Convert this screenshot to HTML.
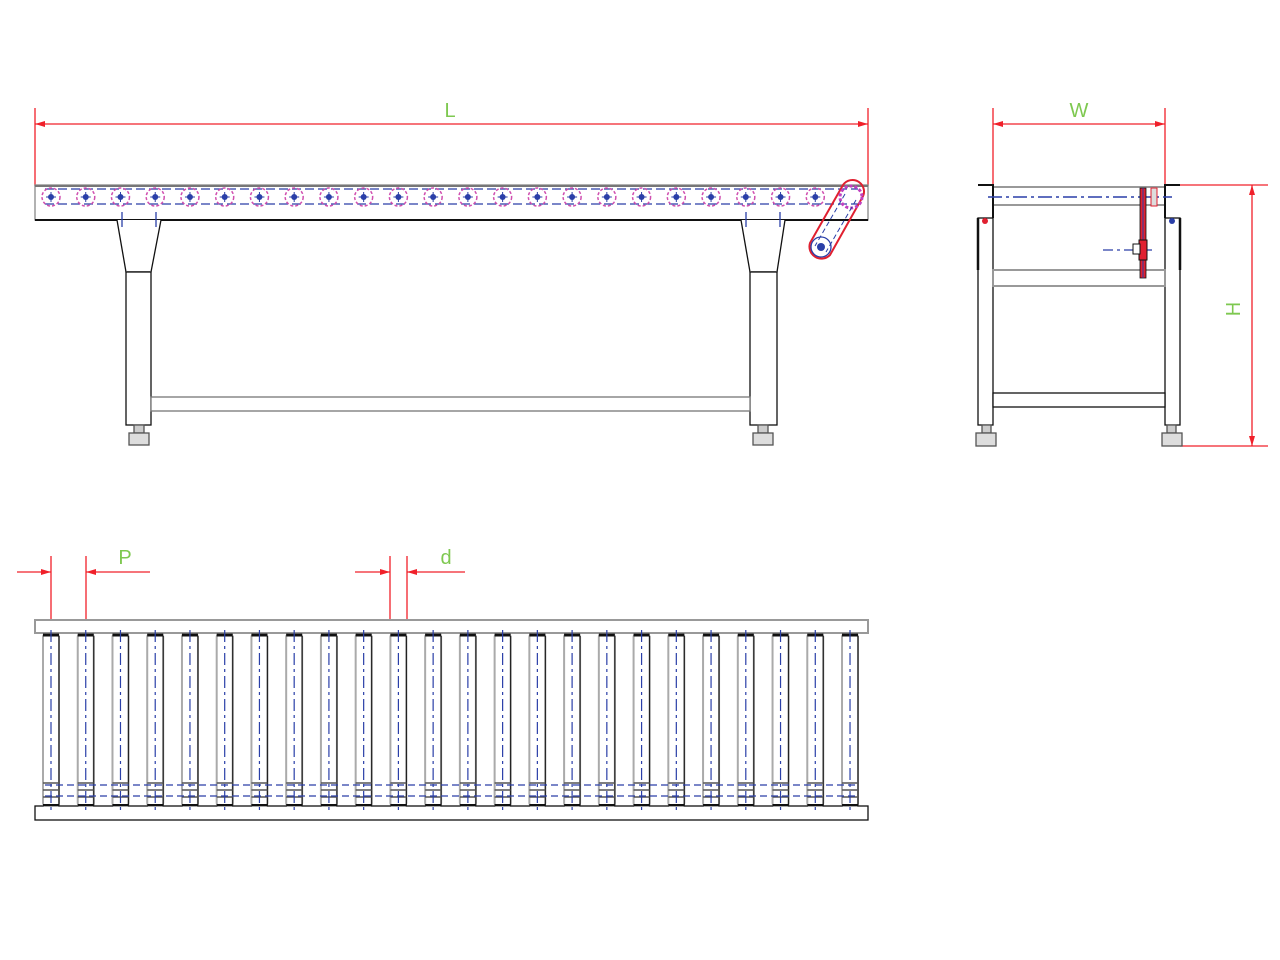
<!DOCTYPE html>
<html><head><meta charset="utf-8"><style>
html,body{margin:0;padding:0;background:#fff;}
svg{display:block;}
text{font-family:"Liberation Sans",sans-serif;fill:#7ec850;}
</style></head><body>
<svg id="s" width="1280" height="960" viewBox="0 0 1280 960" xmlns="http://www.w3.org/2000/svg">
<defs>
<marker id="ar" viewBox="0 0 10 6" refX="10" refY="3" markerWidth="16" markerHeight="6" markerUnits="userSpaceOnUse" orient="auto-start-reverse"><path d="M0,0 L10,3 L0,6 z" fill="#f0202a"/></marker>
</defs>
<g stroke="#f0202a" stroke-width="1.3" fill="none">
<!-- L -->
<line x1="35" y1="108" x2="35" y2="186"/><line x1="868" y1="108" x2="868" y2="186"/>
<line x1="35" y1="124" x2="868" y2="124" marker-start="url(#ar)" marker-end="url(#ar)"/>
<!-- W -->
<line x1="993" y1="108" x2="993" y2="186"/><line x1="1165" y1="108" x2="1165" y2="186"/>
<line x1="993" y1="124" x2="1165" y2="124" marker-start="url(#ar)" marker-end="url(#ar)"/>
<!-- H -->
<line x1="1180" y1="185" x2="1268" y2="185"/><line x1="1180" y1="446" x2="1268" y2="446"/>
<line x1="1252" y1="185" x2="1252" y2="446" marker-start="url(#ar)" marker-end="url(#ar)"/>
<!-- P -->
<line x1="51" y1="556" x2="51" y2="634"/><line x1="86" y1="556" x2="86" y2="634"/>
<line x1="17" y1="572" x2="51" y2="572" marker-end="url(#ar)"/>
<line x1="150" y1="572" x2="86" y2="572" marker-end="url(#ar)"/>
<!-- d -->
<line x1="390" y1="556" x2="390" y2="634"/><line x1="407" y1="556" x2="407" y2="634"/>
<line x1="355" y1="572" x2="390" y2="572" marker-end="url(#ar)"/>
<line x1="465" y1="572" x2="407" y2="572" marker-end="url(#ar)"/>
</g>
<text x="450" y="117" font-size="20" text-anchor="middle">L</text>
<text x="1079" y="117" font-size="20" text-anchor="middle">W</text>
<text x="1246" y="315" font-size="20" text-anchor="middle" transform="rotate(-90 1240 315)">H</text>
<text x="125" y="564" font-size="20" text-anchor="middle">P</text>
<text x="446" y="564" font-size="20" text-anchor="middle">d</text>

<!-- FRONT VIEW -->
<g stroke="#111" stroke-width="1.3" fill="#fff">
<rect x="35" y="185" width="833" height="35" stroke="#888"/>
<line x1="35" y1="220" x2="868" y2="220" stroke="#111" stroke-width="2"/>
<line x1="35" y1="186" x2="868" y2="186" stroke="#777" stroke-width="2"/>
<!-- legs -->
<path d="M117,220 L126,272 L151,272 L161,220" fill="#fff"/>
<line x1="126" y1="272" x2="151" y2="272" stroke="#999" stroke-width="2"/>
<rect x="126" y="272" width="25" height="153"/>
<path d="M741,220 L750,272 L777,272 L785,220" fill="#fff"/>
<line x1="750" y1="272" x2="777" y2="272" stroke="#999" stroke-width="2"/>
<rect x="750" y="272" width="27" height="153"/>
<rect x="151" y="397" width="599" height="14" stroke="#777"/>
<rect x="134" y="425" width="10" height="8" fill="#ccc" stroke="#555"/>
<rect x="129" y="433" width="20" height="12" fill="#ddd" stroke="#555"/>
<rect x="758" y="425" width="10" height="8" fill="#ccc" stroke="#555"/>
<rect x="753" y="433" width="20" height="12" fill="#ddd" stroke="#555"/>
</g>
<g stroke="#2a3fa8" stroke-width="1.3" stroke-dasharray="9,4" fill="none">
<line x1="45" y1="189" x2="858" y2="189"/><line x1="45" y1="204" x2="858" y2="204"/>
<line x1="122" y1="212" x2="122" y2="227" stroke-dasharray="none"/>
<line x1="156" y1="212" x2="156" y2="227" stroke-dasharray="none"/>
<line x1="746" y1="212" x2="746" y2="227" stroke-dasharray="none"/>
<line x1="780" y1="212" x2="780" y2="227" stroke-dasharray="none"/>
</g>
<g id="frontRollers"></g>
<!-- crank -->
<g fill="none">
<path d="M843,185 L810,243 A12,12 0 0 0 830,255 L862,198 A11,11 0 0 0 843,185z" stroke="#e02030" stroke-width="2"/>
<circle cx="851" cy="197" r="11" stroke="#c040c0" stroke-width="3" stroke-dasharray="3,2"/>
<circle cx="821" cy="247" r="10" stroke="#2a3fa8" stroke-width="1.3"/>
<circle cx="821" cy="247" r="4" fill="#2a3fa8"/>
<line x1="845" y1="194" x2="815" y2="246" stroke="#2a3fa8" stroke-dasharray="5,3"/>
<line x1="856" y1="200" x2="826" y2="252" stroke="#2a3fa8" stroke-dasharray="5,3"/>
</g>

<!-- SIDE VIEW -->
<g stroke="#111" stroke-width="1.3" fill="#fff">
<rect x="993" y="187" width="172" height="18" stroke="#999" stroke-width="2"/>
<path d="M978,185 L993,185 L993,218" fill="none" stroke-width="2"/>
<path d="M1180,185 L1165,185 L1165,218" fill="none" stroke-width="2"/>
<rect x="978" y="218" width="15" height="207"/>
<rect x="1165" y="218" width="15" height="207"/>
<line x1="978" y1="218" x2="978" y2="270" stroke-width="2.5"/>
<line x1="1180" y1="218" x2="1180" y2="270" stroke-width="2.5"/>
<rect x="993" y="270" width="172" height="16" stroke="#999" stroke-width="2"/>
<rect x="993" y="393" width="172" height="14"/>
<rect x="982" y="425" width="9" height="8" fill="#ccc" stroke="#555"/>
<rect x="976" y="433" width="20" height="13" fill="#ddd" stroke="#555"/>
<rect x="1167" y="425" width="9" height="8" fill="#ccc" stroke="#555"/>
<rect x="1162" y="433" width="20" height="13" fill="#ddd" stroke="#555"/>
</g>
<g fill="none">
<line x1="988" y1="197" x2="1172" y2="197" stroke="#2a3fa8" stroke-width="1.5" stroke-dasharray="14,4,3,4"/>
<line x1="1103" y1="250" x2="1152" y2="250" stroke="#2a3fa8" stroke-width="1.3" stroke-dasharray="10,4,3,4"/>
<rect x="1140" y="188" width="6" height="90" fill="#e02030" stroke="#111" stroke-width="0.8"/>
<line x1="1143" y1="188" x2="1143" y2="278" stroke="#2a3fa8" stroke-width="1"/>
<rect x="1139" y="240" width="8" height="20" fill="#e02030" stroke="#111"/>
<rect x="1133" y="244" width="7" height="10" fill="#fff" stroke="#111"/>
<rect x="1151" y="188" width="6" height="18" fill="#ddd" stroke="#e02030"/>
<circle cx="985" cy="221" r="3" fill="#e02030"/>
<circle cx="1172" cy="221" r="3" fill="#2a3fa8"/>
</g>

<!-- PLAN VIEW -->
<g stroke="#111" stroke-width="1.3" fill="#fff">
<rect x="35" y="620" width="833" height="13" stroke="#999" stroke-width="2"/>
<rect x="35" y="806" width="833" height="14"/>
</g>
<g id="planRollers"></g>
<g stroke="#2a3fa8" stroke-width="1.2" stroke-dasharray="7,4" fill="none">
<line x1="45" y1="785" x2="858" y2="785"/>
<line x1="45" y1="796" x2="858" y2="796"/>
</g>
</svg>
<script>
var NS="http://www.w3.org/2000/svg";
function el(p,t,a){var e=document.createElementNS(NS,t);for(var k in a)e.setAttribute(k,a[k]);p.appendChild(e);return e;}
var fr=document.getElementById('frontRollers'),pr=document.getElementById('planRollers');
for(var i=0;i<24;i++){
 var x=51+i*34.74;
 if(i<23){
 el(fr,'circle',{cx:x,cy:197,r:9,fill:'none',stroke:'#d050b0','stroke-width':1.5,'stroke-dasharray':'3,2'});
 el(fr,'circle',{cx:x,cy:197,r:3,fill:'#2a3fa8'});
 el(fr,'line',{x1:x-5,y1:197,x2:x+5,y2:197,stroke:'#2a3fa8','stroke-width':1});
 el(fr,'line',{x1:x,y1:192,x2:x,y2:202,stroke:'#2a3fa8','stroke-width':1});
 }
 var g=el(pr,'g',{});
 el(g,'rect',{x:x-8,y:634,width:16,height:172,rx:3,fill:'#fff',stroke:'#aaa','stroke-width':2});
 el(g,'line',{x1:x+8,y1:636,x2:x+8,y2:806,stroke:'#222','stroke-width':1.2});
 el(g,'line',{x1:x-8,y1:635,x2:x+8,y2:635,stroke:'#111','stroke-width':3});
 [783,790,797].forEach(function(y){el(g,'line',{x1:x-8,y1:y,x2:x+8,y2:y,stroke:'#555','stroke-width':1.5});});
 el(g,'line',{x1:x-8,y1:805,x2:x+8,y2:805,stroke:'#111','stroke-width':2});
 el(g,'line',{x1:x,y1:630,x2:x,y2:810,stroke:'#2a3fa8','stroke-width':1.2,'stroke-dasharray':'12,4,3,4'});
}
</script>
</body></html>
